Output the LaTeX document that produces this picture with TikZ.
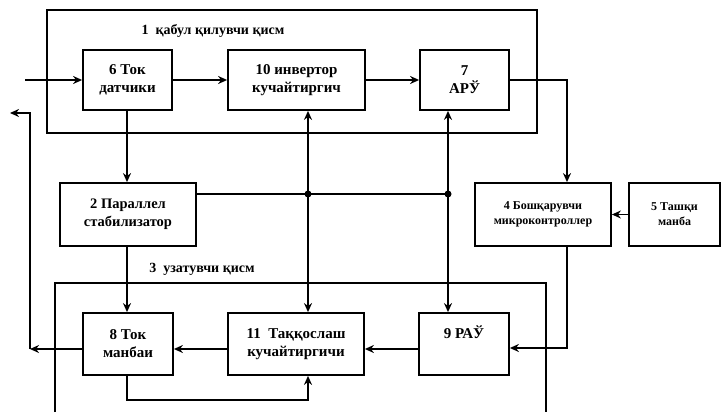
\documentclass[tikz,border=0pt]{standalone}
\usepackage{fontspec}
\setmainfont{Liberation Serif}
\usetikzlibrary{arrows.meta}
\begin{document}
\begin{tikzpicture}[x=1pt,y=-1pt,
  box/.style={draw,line width=1.8pt,inner sep=0pt,align=center,font=\bfseries\fontsize{15}{18}\selectfont},
  ln/.style={line width=1.8pt},
  arr/.style={line width=1.8pt,-{Stealth[length=9pt,width=8pt]}},
  jdot/.style={circle,fill,inner sep=0pt,minimum size=7pt},
  lbl/.style={font=\bfseries\fontsize{14}{16}\selectfont},
  small/.style={font=\bfseries\fontsize{12}{15}\selectfont}]
\useasboundingbox (0,0) rectangle (722,412);
% outer groups
\draw[ln] (47,10) rectangle (537,133);
\node[lbl] (g1) at (213,31) {1\enspace қабул қилувчи қисм};
\draw[ln] (55,412) -- (55,283) -- (546,283) -- (546,412);
\node[lbl] (g3) at (202,269) {3\enspace узатувчи қисм};
% boxes
\node[box,minimum width=89pt,minimum height=60pt] (b6) at (127.5,80) {6 Ток\\датчики};
\node[box,minimum width=137pt,minimum height=60pt] (b10) at (296.5,80) {10 инвертор\\кучайтиргич};
\node[box,minimum width=89pt,minimum height=60pt] (b7) at (464.5,80) {7\\АРЎ};
\node[box,font=\bfseries\fontsize{14.5}{18}\selectfont,minimum width=136pt,minimum height=63pt] (b2) at (128,214.5) {2 Параллел\\стабилизатор};
\node[box,small,minimum width=136pt,minimum height=63pt] (b4) at (543,214.5) {4 Бошқарувчи\\микроконтроллер};
\node[box,small,minimum width=91pt,minimum height=63pt] (b5) at (674.5,214.5) {5 Ташқи\\манба};
\node[box,minimum width=90pt,minimum height=62pt] (b8) at (128,344) {8 Ток\\манбаи};
\node[box,minimum width=136pt,minimum height=62pt] (b11) at (296,344) {11\enspace Таққослаш\\кучайтиргичи};
\node[box,minimum width=90pt,minimum height=62pt] (b9) at (464,344) {};
\node[font=\bfseries\fontsize{15}{18}\selectfont] (t9) at (464,332) {9 РАЎ};
% coordinates
\coordinate (in) at (25,80);
\coordinate (c7) at (567,80);
\coordinate (j1) at (308,194);
\coordinate (j2) at (448,194);
\coordinate (c4) at (567,348);
\coordinate (c8) at (30,349);
\coordinate (c8b) at (30,113);
\coordinate (out) at (10,113);
\coordinate (l1) at (127,400);
\coordinate (l2) at (308,400);
% connectors
\draw[arr] (in) -- (b6.west |- in);
\draw[arr] (b6.east) -- (b10.west);
\draw[arr] (b10.east) -- (b7.west);
\draw[arr] (b7.east) -- (c7) -- (c7 |- b4.north);
\draw[arr] (b5.west) -- (b4.east);
\draw[arr] (b6.south -| l1) -- (b2.north -| l1);
\draw[arr] (b2.south -| l1) -- (b8.north -| l1);
\draw[ln] (b2.east |- j1) -- (j2);
\draw[arr] (j1) -- (b10.south -| j1);
\draw[arr] (j1) -- (b11.north -| j1);
\draw[arr] (j2) -- (b7.south -| j2);
\draw[arr] (j2) -- (b9.north -| j2);
\node[jdot] (d1) at (j1) {};
\node[jdot] (d2) at (j2) {};
\draw[arr] (b4.south -| c4) -- (c4) -- (b9.east |- c4);
\draw[arr] (b9.west |- c8) -- (b11.east |- c8);
\draw[arr] (b11.west |- c8) -- (b8.east |- c8);
\draw[arr] (b8.west |- c8) -- (c8);
\draw[arr] (c8) -- (c8b) -- (out);
\draw[arr] (b8.south -| l1) -- (l1) -- (l2) -- (b11.south -| l2);
\end{tikzpicture}
\end{document}
